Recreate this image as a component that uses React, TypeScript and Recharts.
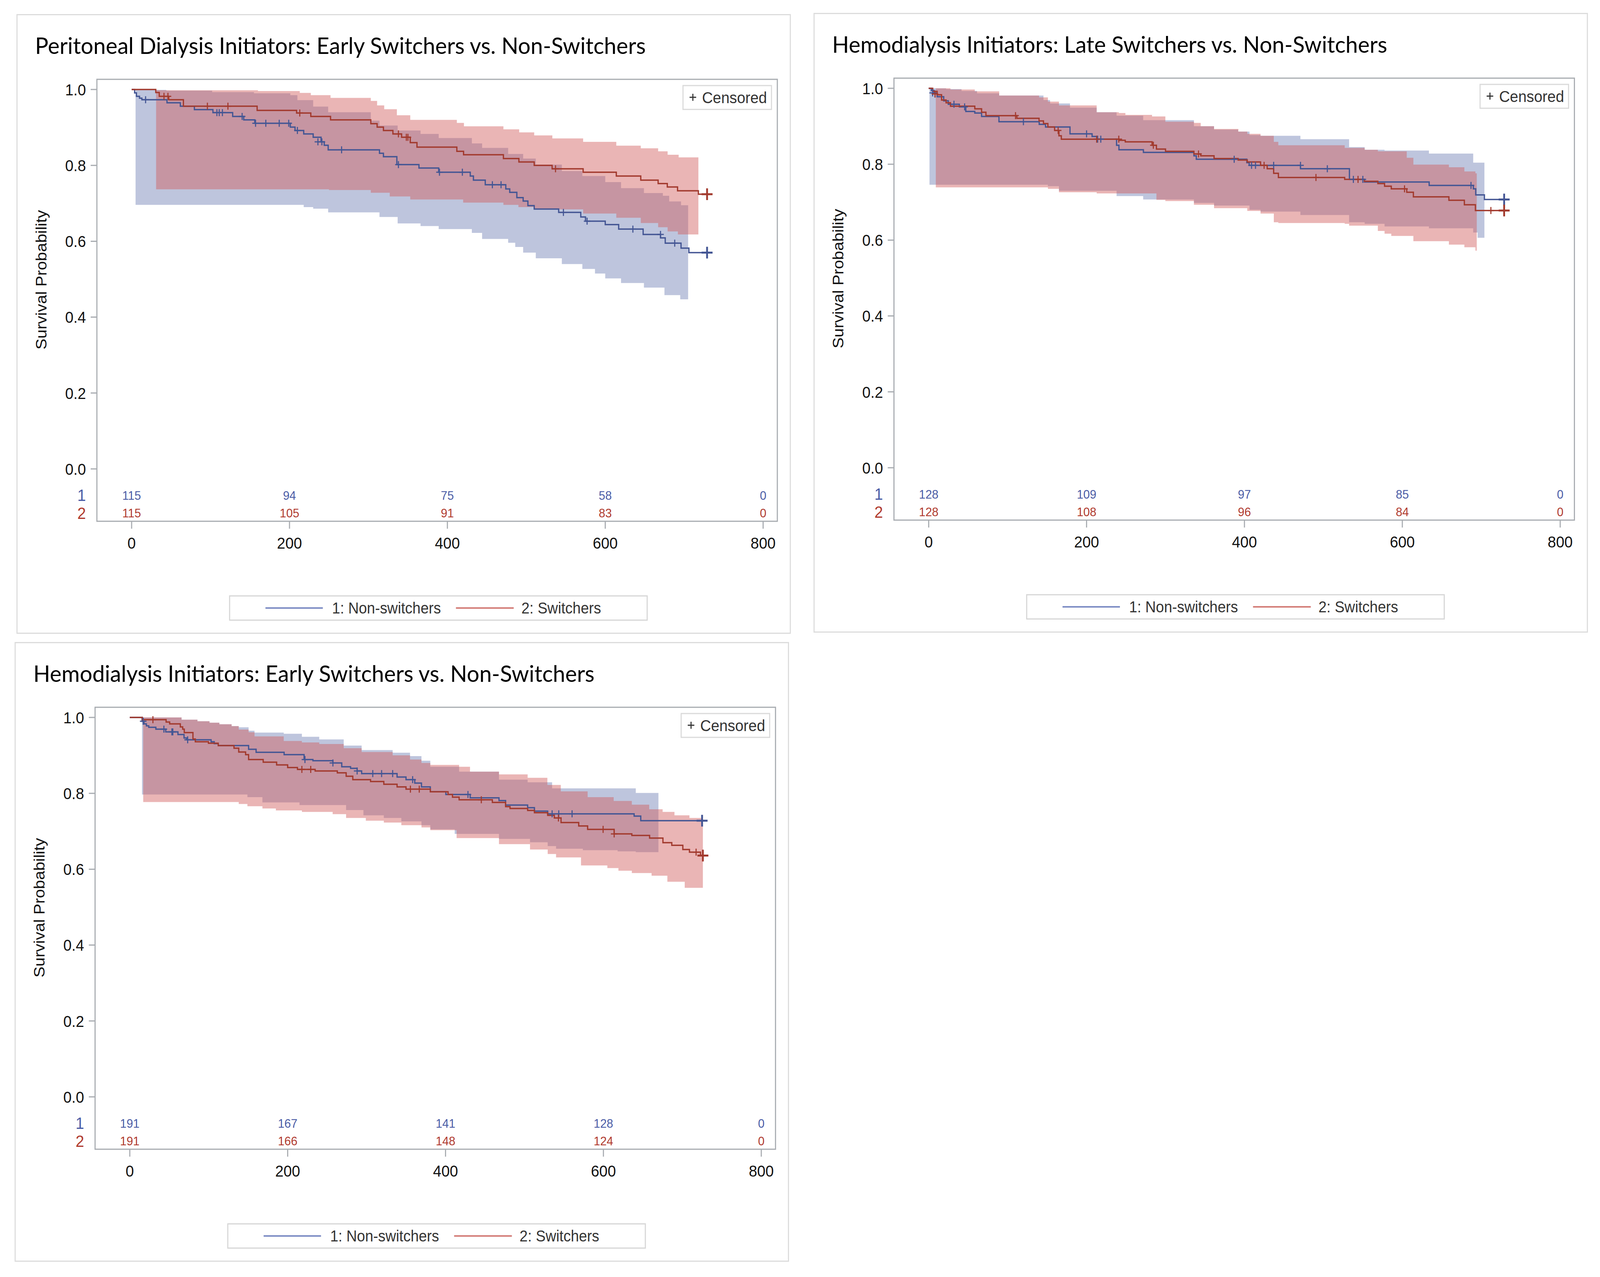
import React from 'react';
import { ComposedChart, Line, Area, Scatter, XAxis, YAxis, ReferenceArea } from 'recharts';

// ---------- shared ----------
const X_TICKS = [0, 200, 400, 600, 800];
const Y_TICKS = [0, 0.2, 0.4, 0.6, 0.8, 1.0];
const RISK_TIMES = [0, 200, 400, 600, 800];
const GROUP_LABELS = ['1', '2'];
const LEGEND_LABELS = ['1: Non-switchers', '2: Switchers'];

// ---------- Panel 1: Peritoneal Dialysis Initiators: Early Switchers vs. Non-Switchers ----------
const P1_TITLE = 'Peritoneal Dialysis Initiators: Early Switchers vs. Non-Switchers';
const P1_BLUE_KM = [[0,1],[3.8,0.991],[6.1,0.982],[10,0.977],[13,0.973],[44.8,0.965],[61.7,0.956],[79.5,0.947],[103,0.939],[128,0.929],[142,0.920],[156,0.911],[201,0.901],[207,0.892],[218,0.883],[230,0.874],[240,0.862],[244,0.853],[249,0.841],[314,0.832],[319,0.823],[336,0.802],[364,0.793],[389,0.782],[429,0.772],[433,0.761],[448,0.749],[474,0.738],[479,0.729],[488,0.715],[496,0.706],[502,0.694],[510,0.685],[541,0.676],[569,0.664],[575,0.653],[600,0.644],[617,0.632],[648,0.618],[670,0.609],[676,0.595],[696,0.582],[706,0.570],[729,0.570]];
const P1_RED_KM = [[0,1],[30.6,0.992],[35,0.982],[47,0.973],[65.6,0.956],[159,0.945],[209,0.938],[227,0.929],[252,0.920],[303,0.910],[311,0.901],[319,0.892],[331,0.883],[342,0.874],[353,0.860],[361.5,0.848],[412,0.837],[420.5,0.828],[471,0.818],[490.6,0.809],[510,0.800],[532.7,0.791],[572,0.782],[614,0.772],[645,0.761],[667,0.752],[678.6,0.743],[691.6,0.733],[718,0.724],[729,0.724]];
const P1_BLUE_CENS = [[17.7,0.973],[108,0.939],[111,0.939],[115,0.939],[140,0.929],[157,0.911],[170,0.911],[187,0.911],[199,0.911],[210,0.892],[236,0.862],[241,0.862],[266,0.841],[338,0.802],[390,0.782],[419,0.782],[457,0.749],[468,0.749],[547,0.676],[577,0.653],[635,0.632],[670,0.618],[688,0.595],[729,0.570]];
const P1_RED_CENS = [[41,0.982],[46,0.982],[96,0.956],[122,0.956],[213,0.938],[338,0.883],[348,0.874],[350,0.874],[537,0.791],[729,0.724]];
const P1_BLUE_UP = [[5,0.999],[44,0.997],[102,0.993],[155,0.990],[201,0.985],[210,0.972],[230,0.955],[249,0.940],[303,0.918],[314,0.905],[337,0.892],[366,0.883],[389,0.872],[431,0.858],[444,0.846],[477,0.830],[496,0.818],[512,0.802],[545,0.785],[571,0.772],[600,0.756],[620,0.740],[649,0.727],[673,0.720],[681,0.705],[696,0.695],[705,0.695]];
const P1_BLUE_LO = [[5,0.696],[218,0.690],[230,0.686],[249,0.676],[314,0.664],[337,0.647],[366,0.640],[389,0.632],[431,0.622],[444,0.606],[477,0.596],[486,0.585],[496,0.570],[512,0.555],[545,0.540],[571,0.527],[587,0.515],[600,0.502],[620,0.490],[649,0.478],[675,0.458],[695,0.447],[705,0.447]];
const P1_RED_UP = [[31,0.998],[160,0.996],[213,0.991],[227,0.985],[252,0.978],[303,0.970],[311,0.958],[320,0.948],[336,0.932],[353,0.920],[412,0.912],[421,0.903],[471,0.895],[491,0.887],[510,0.879],[533,0.871],[572,0.862],[614,0.852],[645,0.845],[667,0.837],[679,0.828],[693,0.821],[718,0.821]];
const P1_RED_LO = [[31,0.737],[250,0.735],[303,0.728],[327,0.718],[353,0.710],[420,0.702],[471,0.696],[490,0.690],[510,0.684],[572,0.673],[614,0.662],[645,0.648],[667,0.637],[679,0.626],[692,0.618],[718,0.618]];
const P1_RISK_1 = [115, 94, 75, 58, 0];
const P1_RISK_2 = [115, 105, 91, 83, 0];

// ---------- Panel 2: Hemodialysis Initiators: Late Switchers vs. Non-Switchers ----------
const P2_TITLE = 'Hemodialysis Initiators: Late Switchers vs. Non-Switchers';
const P2_BLUE_KM = [[0,1],[3.4,0.994],[6.8,0.988],[10.7,0.978],[19,0.967],[24.8,0.958],[38.8,0.951],[47,0.939],[58.4,0.935],[67,0.926],[89,0.912],[140,0.905],[148,0.898],[179,0.880],[207,0.873],[213,0.866],[238,0.850],[241,0.838],[272,0.831],[336,0.822],[339,0.813],[403,0.804],[406,0.797],[471,0.788],[533,0.760],[552,0.753],[634,0.744],[690,0.735],[693,0.719],[704,0.707],[729,0.707]];
const P2_RED_KM = [[0,1],[5.1,0.992],[10.7,0.983],[16.3,0.969],[22,0.962],[27.6,0.953],[58.4,0.946],[67,0.937],[72.5,0.928],[111.7,0.921],[139.8,0.914],[145.4,0.907],[151,0.898],[159.5,0.889],[165,0.875],[168,0.866],[240.8,0.863],[249,0.859],[283,0.850],[288.5,0.840],[300,0.834],[336,0.827],[344.6,0.822],[361.5,0.815],[392,0.811],[403.6,0.806],[420.4,0.797],[428.8,0.788],[437,0.776],[443,0.765],[527,0.760],[552,0.755],[569,0.749],[577.5,0.742],[586,0.735],[605.6,0.726],[614,0.714],[659,0.705],[678.6,0.693],[692.6,0.678],[729,0.678]];
const P2_BLUE_CENS = [[5,0.988],[8,0.985],[32,0.958],[45.5,0.951],[120,0.912],[200,0.880],[214,0.866],[218,0.866],[387,0.813],[409,0.797],[414,0.797],[437,0.797],[471,0.797],[505,0.788],[538,0.760],[550,0.760],[687,0.744],[729,0.707]];
const P2_RED_CENS = [[8,0.985],[110,0.928],[164,0.889],[212.8,0.866],[240.8,0.866],[284.6,0.850],[341.8,0.827],[424.9,0.797],[490.6,0.765],[543.9,0.760],[602.8,0.735],[712.2,0.678],[729,0.678]];
const P2_BLUE_UP = [[1,1],[22,0.998],[41.6,0.993],[61.2,0.987],[89.3,0.981],[145.4,0.969],[153.8,0.960],[179,0.949],[212.8,0.937],[238,0.928],[271.7,0.916],[336,0.900],[361.5,0.891],[392,0.886],[406.4,0.877],[420.4,0.875],[470.9,0.866],[532.6,0.845],[552.3,0.838],[577.5,0.836],[633.7,0.828],[689.8,0.804],[704,0.804]];
const P2_BLUE_LO = [[1,0.746],[151,0.742],[165,0.730],[238,0.716],[271.7,0.707],[336,0.698],[361.5,0.691],[406.4,0.680],[420.4,0.675],[470.9,0.666],[532.6,0.647],[552.3,0.643],[577.5,0.636],[633.7,0.631],[689.8,0.620],[695.4,0.606],[704,0.606]];
const P2_RED_UP = [[9,1],[27.6,0.997],[58.4,0.992],[89.3,0.981],[139.8,0.976],[151,0.965],[165,0.955],[212.8,0.937],[240.8,0.935],[249.2,0.930],[283,0.926],[299.8,0.912],[336,0.909],[344.6,0.900],[361.5,0.893],[392.3,0.886],[403.6,0.880],[420.4,0.875],[437.2,0.859],[442.9,0.850],[527,0.843],[552.3,0.838],[569,0.834],[605.6,0.817],[614,0.799],[659,0.792],[678.6,0.781],[692.6,0.776],[694.3,0.776]];
const P2_RED_LO = [[9,0.739],[151,0.735],[165,0.726],[212.8,0.723],[288.5,0.706],[299.8,0.703],[336,0.693],[361.5,0.684],[403.6,0.677],[420.4,0.670],[437.2,0.647],[442.9,0.645],[527,0.643],[532.6,0.638],[569,0.624],[577.5,0.617],[586,0.611],[614,0.597],[659,0.588],[678.6,0.581],[692.6,0.572],[694.3,0.572]];
const P2_RISK_1 = [128, 109, 97, 85, 0];
const P2_RISK_2 = [128, 108, 96, 84, 0];

// ---------- Panel 3: Hemodialysis Initiators: Early Switchers vs. Non-Switchers ----------
const P3_TITLE = 'Hemodialysis Initiators: Early Switchers vs. Non-Switchers';
const P3_BLUE_KM = [[0,1],[15.5,0.990],[18,0.983],[21,0.978],[24,0.974],[33,0.969],[45.5,0.962],[61,0.955],[68.7,0.946],[72,0.941],[103,0.936],[107,0.931],[112,0.926],[150.5,0.916],[160,0.908],[195.5,0.902],[220.8,0.889],[232,0.886],[257.3,0.880],[268.5,0.870],[279.7,0.866],[288,0.859],[293.7,0.852],[338.6,0.843],[349.9,0.836],[361,0.827],[369.5,0.817],[380.7,0.804],[400.4,0.797],[431.2,0.788],[467.7,0.781],[476.1,0.769],[504,0.762],[512.6,0.753],[529.4,0.746],[638.9,0.740],[647.3,0.728],[725,0.728]];
const P3_RED_KM = [[0,1],[16,0.994],[46,0.988],[50.5,0.983],[64,0.975],[67,0.969],[69,0.960],[80,0.943],[83,0.936],[99.6,0.932],[112,0.926],[132,0.919],[138,0.909],[146.7,0.902],[150.5,0.889],[169,0.882],[186,0.875],[200,0.868],[212.4,0.863],[234.8,0.859],[262.9,0.854],[274.1,0.845],[282.5,0.836],[305,0.831],[321.8,0.824],[338.6,0.817],[349.9,0.811],[380.7,0.804],[403.2,0.797],[408.8,0.790],[417.2,0.783],[459.3,0.776],[476.1,0.765],[481.7,0.760],[504,0.755],[512.6,0.749],[529.4,0.742],[537.8,0.735],[546.3,0.723],[568.7,0.714],[580,0.705],[613.6,0.693],[636,0.689],[658.5,0.682],[675.4,0.670],[686.6,0.663],[700.6,0.652],[709,0.645],[723,0.636],[726,0.636]];
const P3_BLUE_CENS = [[17,0.990],[43.2,0.969],[53.3,0.962],[54.5,0.962],[73.3,0.941],[221.9,0.889],[257.3,0.880],[288,0.859],[307.8,0.852],[319,0.852],[333,0.852],[358.3,0.836],[428.4,0.797],[535,0.746],[543.4,0.746],[560.3,0.746],[725,0.728]];
const P3_RED_CENS = [[29.3,0.994],[218,0.863],[229.2,0.863],[355.5,0.811],[366.7,0.811],[445.3,0.783],[543,0.735],[599.6,0.705],[613.6,0.693],[717.4,0.645],[726,0.636]];
const P3_BLUE_UP = [[15.5,1.0],[65.6,0.994],[85.7,0.990],[101,0.986],[113.5,0.982],[129,0.977],[138,0.974],[150.5,0.965],[158,0.960],[195,0.957],[218,0.949],[240,0.942],[271,0.926],[293.7,0.914],[333,0.907],[355,0.898],[369.5,0.886],[380.7,0.870],[417.2,0.857],[467.7,0.836],[504,0.829],[535,0.813],[641,0.801],[669.7,0.801]];
const P3_BLUE_LO = [[15.5,0.797],[149,0.790],[168,0.776],[215,0.769],[274,0.756],[296,0.742],[321.8,0.735],[344,0.726],[369.5,0.716],[380.7,0.705],[411.6,0.693],[467.7,0.680],[507,0.671],[529.4,0.661],[540,0.654],[574,0.650],[618,0.647],[641,0.645],[669.7,0.645]];
const P3_RED_UP = [[17,1.0],[65.6,0.994],[85.7,0.990],[101,0.986],[113.5,0.982],[129,0.977],[138,0.968],[150.5,0.961],[158,0.950],[195,0.938],[218,0.934],[240,0.930],[271,0.919],[293.7,0.909],[333,0.900],[355,0.889],[369.5,0.880],[380.7,0.875],[417.2,0.870],[431,0.857],[467.7,0.850],[504,0.841],[529,0.822],[546,0.805],[580,0.790],[613,0.780],[636,0.770],[658,0.758],[675,0.751],[690,0.742],[709,0.735],[726,0.735]];
const P3_RED_LO = [[17,0.777],[138,0.772],[149,0.766],[168,0.760],[185,0.755],[218,0.751],[257,0.745],[274,0.735],[299,0.728],[321.8,0.723],[344,0.716],[369.5,0.710],[380.7,0.703],[414,0.682],[467.7,0.666],[507,0.652],[529.4,0.640],[540,0.631],[571.6,0.610],[605,0.603],[619,0.596],[636,0.590],[661,0.583],[681,0.567],[703,0.551],[726,0.551]];
const P3_RISK_1 = [191, 167, 141, 128, 0];
const P3_RISK_2 = [191, 166, 148, 124, 0];

// ---------- style ----------
const LINE_BLUE = '#445694';
const LINE_RED = '#A23A2E';
const FILL_BLUE = '#6F7EB3';
const FILL_RED = '#D05B5B';
const TEXT_BLUE = '#4a5ca6';
const TEXT_RED = '#b03a2e';
const LEG_BLUE = '#7f8ec5';
const LEG_RED = '#d47f7a';
const FRAME = '#a7abb0';
const ARIAL = '"Liberation Sans", Arial, sans-serif';
const TITLE_FONT = 'Lato, "Open Sans", sans-serif';

const X_DOMAIN: [number, number] = [-44, 818];
const Y_DOMAIN: [number, number] = [-0.138, 1.0268];
const ROW_Y = [-0.069, -0.116];

const REF_W = 4376;
const REF_H = 3268;
const PANEL_W = 2118;
const PANEL_H = 1586;

const toXY = (arr: number[][]) => arr.map(([x, y]) => ({ x, y }));

// evaluate two step functions on the union of their jump times (for the range area)
const band = (upper: number[][], lower: number[][]) => {
  const xs = Array.from(new Set([...upper.map(p => p[0]), ...lower.map(p => p[0])])).sort((a, b) => a - b);
  const at = (arr: number[][], x: number) => {
    let v = arr[0][1];
    for (const p of arr) if (p[0] <= x) v = p[1];
    return v;
  };
  return xs.map(x => ({ x, ci: [at(lower, x), at(upper, x)] }));
};

const riskRow = (counts: number[], rowIndex: number) =>
  counts.map((n, i) => ({ x: RISK_TIMES[i], y: ROW_Y[rowIndex], n }));

const makeCensor = (color: string) => (props: any) => {
  const { cx, cy, payload } = props;
  if (cx == null || cy == null) return <g />;
  const big = payload && payload.x > 720;
  const h = big ? 15 : 9;
  return (
    <g>
      <line x1={cx - h} x2={cx + h} y1={cy} y2={cy} stroke={color} strokeWidth={big ? 5 : 3} />
      <line x1={cx} x2={cx} y1={cy - h} y2={cy + h} stroke={color} strokeWidth={big ? 5 : 3} />
    </g>
  );
};

const makeRiskText = (color: string) => (props: any) => {
  const { cx, cy, payload } = props;
  if (cx == null || cy == null) return <g />;
  return (
    <text x={cx} y={cy} dy="0.36em" textAnchor="middle" fontSize={32} fill={color} fontFamily={ARIAL}>
      {String(payload.n)}
    </text>
  );
};

const YTick = (props: any) => {
  const { y, payload } = props;
  const v = payload.value;
  const rowIdx = ROW_Y.indexOf(v);
  if (rowIdx >= 0) {
    return (
      <text x={190} y={y} dy="0.36em" textAnchor="end" fontSize={42} fontFamily={ARIAL} fill={rowIdx === 0 ? TEXT_BLUE : TEXT_RED}>
        {GROUP_LABELS[rowIdx]}
      </text>
    );
  }
  return (
    <g>
      <line x1={203} x2={219} y1={y} y2={y} stroke={FRAME} strokeWidth={3} />
      <text x={190} y={y} dy="0.36em" textAnchor="end" fontSize={41} fontFamily={ARIAL} fill="#111">
        {Number(v).toFixed(1)}
      </text>
    </g>
  );
};

type PanelProps = {
  left: number;
  top: number;
  title: string;
  titleLen: number;
  blueKM: number[][];
  redKM: number[][];
  blueCens: number[][];
  redCens: number[][];
  blueUp: number[][];
  blueLo: number[][];
  redUp: number[][];
  redLo: number[][];
  risk1: number[];
  risk2: number[];
};

const Panel = (p: PanelProps) => {
  const blueBand = band(p.blueUp, p.blueLo);
  const redBand = band(p.redUp, p.redLo);
  return (
    <div style={{ position: 'absolute', left: p.left, top: p.top, width: PANEL_W, height: PANEL_H }}>
      <div style={{ position: 'absolute', left: 0, top: 0, width: PANEL_W, height: PANEL_H, border: '3px solid #dcdcdc', boxSizing: 'border-box', background: '#fff' }} />
      <div style={{ position: 'absolute', left: 0, top: 0 }}>
        <ComposedChart width={PANEL_W} height={PANEL_H} margin={{ top: 167, right: 37, bottom: 208, left: 100 }}>
          <XAxis
            type="number"
            dataKey="x"
            domain={X_DOMAIN}
            ticks={X_TICKS}
            interval={0}
            allowDataOverflow
            axisLine={false}
            tickLine={{ stroke: FRAME, strokeWidth: 3 }}
            tickSize={19}
            tickMargin={22}
            height={80}
            tick={{ fontSize: 41, fill: '#111', fontFamily: ARIAL }}
          />
          <YAxis
            type="number"
            domain={Y_DOMAIN}
            ticks={[...ROW_Y, ...Y_TICKS]}
            interval={0}
            allowDataOverflow
            axisLine={false}
            tickLine={false}
            width={120}
            tick={<YTick />}
          />
          <Area data={blueBand} dataKey="ci" type="stepAfter" fill={FILL_BLUE} fillOpacity={0.45} stroke="none" isAnimationActive={false} />
          <Area data={redBand} dataKey="ci" type="stepAfter" fill={FILL_RED} fillOpacity={0.45} stroke="none" isAnimationActive={false} />
          <Line data={toXY(p.blueKM)} dataKey="y" type="stepAfter" stroke={LINE_BLUE} strokeWidth={3.5} dot={false} isAnimationActive={false} />
          <Line data={toXY(p.redKM)} dataKey="y" type="stepAfter" stroke={LINE_RED} strokeWidth={3.5} dot={false} isAnimationActive={false} />
          <Scatter data={toXY(p.blueCens)} dataKey="y" shape={makeCensor(LINE_BLUE)} isAnimationActive={false} />
          <Scatter data={toXY(p.redCens)} dataKey="y" shape={makeCensor(LINE_RED)} isAnimationActive={false} />
          <Scatter data={riskRow(p.risk1, 0)} dataKey="y" shape={makeRiskText(TEXT_BLUE)} isAnimationActive={false} />
          <Scatter data={riskRow(p.risk2, 1)} dataKey="y" shape={makeRiskText(TEXT_RED)} isAnimationActive={false} />
          <ReferenceArea x1={X_DOMAIN[0]} x2={X_DOMAIN[1]} y1={Y_DOMAIN[0]} y2={Y_DOMAIN[1]} fill="none" fillOpacity={0} stroke={FRAME} strokeWidth={3} ifOverflow="visible" />
        </ComposedChart>
      </div>
      <svg width={PANEL_W} height={PANEL_H} style={{ position: 'absolute', left: 0, top: 0, pointerEvents: 'none' }}>
        <text x={51} y={102} fontSize={58} fontFamily={TITLE_FONT} fill="#000" textLength={p.titleLen} lengthAdjust="spacingAndGlyphs">
          {p.title}
        </text>
        <text x={67} y={680} transform="rotate(-90 67 680)" textAnchor="middle" dy="0.36em" fontSize={42} fontFamily={ARIAL} fill="#111">
          Survival Probability
        </text>
        {/* censored legend */}
        <rect x={1823} y={183} width={242} height={61} fill="#fff" stroke="#dadada" strokeWidth={3} />
        <line x1={1841} x2={1859} y1={213} y2={213} stroke="#333" strokeWidth={3} />
        <line x1={1850} x2={1850} y1={204} y2={222} stroke="#333" strokeWidth={3} />
        <text x={1875} y={213} dy="0.36em" fontSize={41} fontFamily={ARIAL} fill="#333">Censored</text>
        {/* group legend */}
        <rect x={583} y={1489} width={1142} height={62} fill="#fff" stroke="#d6d6d6" strokeWidth={3} />
        <line x1={681} x2={838} y1={1520} y2={1520} stroke={LEG_BLUE} strokeWidth={4} />
        <text x={863} y={1520} dy="0.36em" fontSize={40} fontFamily={ARIAL} fill="#333">{LEGEND_LABELS[0]}</text>
        <line x1={1202} x2={1360} y1={1520} y2={1520} stroke={LEG_RED} strokeWidth={4} />
        <text x={1381} y={1520} dy="0.36em" fontSize={40} fontFamily={ARIAL} fill="#333">{LEGEND_LABELS[1]}</text>
      </svg>
    </div>
  );
};

export default function App() {
  // the photographed viewport may be narrower than the reference canvas: fit the layout into it
  const vw = typeof window !== 'undefined' ? window.innerWidth : REF_W;
  const vh = typeof window !== 'undefined' ? window.innerHeight : REF_H;
  const sx = Math.min(1, vw / REF_W);
  const sy = Math.min(1, vh / REF_H);
  return (
    <div style={{ position: 'absolute', left: 0, top: 0, width: REF_W, height: REF_H, background: '#fff', transform: `scale(${sx}, ${sy})`, transformOrigin: '0 0' }}>
      <Panel left={45} top={36} title={P1_TITLE} titleLen={1670}
        blueKM={P1_BLUE_KM} redKM={P1_RED_KM} blueCens={P1_BLUE_CENS} redCens={P1_RED_CENS}
        blueUp={P1_BLUE_UP} blueLo={P1_BLUE_LO} redUp={P1_RED_UP} redLo={P1_RED_LO}
        risk1={P1_RISK_1} risk2={P1_RISK_2} />
      <Panel left={2225} top={33} title={P2_TITLE} titleLen={1518}
        blueKM={P2_BLUE_KM} redKM={P2_RED_KM} blueCens={P2_BLUE_CENS} redCens={P2_RED_CENS}
        blueUp={P2_BLUE_UP} blueLo={P2_BLUE_LO} redUp={P2_RED_UP} redLo={P2_RED_LO}
        risk1={P2_RISK_1} risk2={P2_RISK_2} />
      <Panel left={40} top={1643} title={P3_TITLE} titleLen={1535}
        blueKM={P3_BLUE_KM} redKM={P3_RED_KM} blueCens={P3_BLUE_CENS} redCens={P3_RED_CENS}
        blueUp={P3_BLUE_UP} blueLo={P3_BLUE_LO} redUp={P3_RED_UP} redLo={P3_RED_LO}
        risk1={P3_RISK_1} risk2={P3_RISK_2} />
    </div>
  );
}
